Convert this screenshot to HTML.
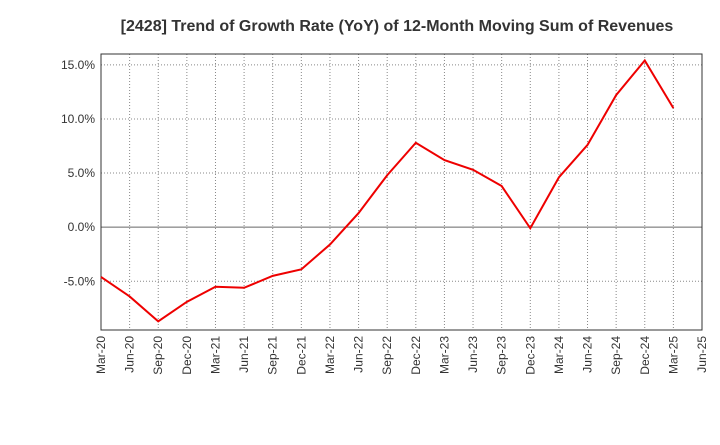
<!DOCTYPE html>
<html><head><meta charset="utf-8"><style>
body{margin:0;background:#fff;}
svg text{font-family:"Liberation Sans",sans-serif;}
</style></head><body>
<svg id="chart" width="720" height="440">
<text x="397" y="31" text-anchor="middle" font-size="16" font-weight="bold" fill="#333">[2428]  Trend of Growth Rate (YoY) of 12-Month Moving Sum of Revenues</text>
<g id="grid"></g><g id="axes"></g><g id="series"></g>
</svg>
<script>
const categories=["Mar-20","Jun-20","Sep-20","Dec-20","Mar-21","Jun-21","Sep-21","Dec-21","Mar-22","Jun-22","Sep-22","Dec-22","Mar-23","Jun-23","Sep-23","Dec-23","Mar-24","Jun-24","Sep-24","Dec-24","Mar-25","Jun-25"];
const values=[-4.6,-6.4,-8.7,-6.9,-5.5,-5.6,-4.5,-3.9,-1.6,1.3,4.8,7.8,6.2,5.3,3.8,-0.1,4.6,7.6,12.2,15.4,11.0];
const yTicks=[-5,0,5,10,15];
const yTickLabels=["-5.0%","0.0%","5.0%","10.0%","15.0%"];
const L=101,R=702,T=54,B=330,yMin=-9.5,yMax=16;
const NS="http://www.w3.org/2000/svg";
const xs=i=>L+i*(R-L)/(categories.length-1);
const ys=v=>B-(v-yMin)/(yMax-yMin)*(B-T);
function mk(tag,attrs,parent){const e=document.createElementNS(NS,tag);for(const k in attrs)e.setAttribute(k,attrs[k]);document.getElementById(parent).appendChild(e);return e;}
const frame=mk('rect',{x:L,y:T,width:R-L,height:B-T,fill:'none',stroke:'#333','stroke-width':1},'axes');


categories.forEach((c,i)=>{
  const x=xs(i);
  if(i>0&&i<categories.length-1){const g=mk('line',{x1:x,x2:x,y1:T,y2:B,stroke:'#888','stroke-dasharray':'1,2','stroke-width':1},'grid');
  
  }
  const t=mk('text',{x:0,y:0,'font-size':12,fill:'#333','text-anchor':'end',transform:`translate(${x+4},${B+6}) rotate(-90)`},'axes');
  t.textContent=c;
  
  
});
yTicks.forEach((v,i)=>{
  const y=ys(v);
  const g=mk('line',{x1:L,x2:R,y1:y,y2:y,stroke:v===0?'#666':'#888','stroke-dasharray':v===0?'none':'1,2','stroke-width':1},'grid');
  
  
  const t=mk('text',{x:L-6,y:y+4,'font-size':12,fill:'#333','text-anchor':'end'},'axes');
  t.textContent=yTickLabels[i];
  
  
});
const line=mk('polyline',{points:values.map((v,i)=>xs(i)+','+ys(v)).join(' '),fill:'none',stroke:'#ee0000','stroke-width':2},'series');


</script>
</body></html>
